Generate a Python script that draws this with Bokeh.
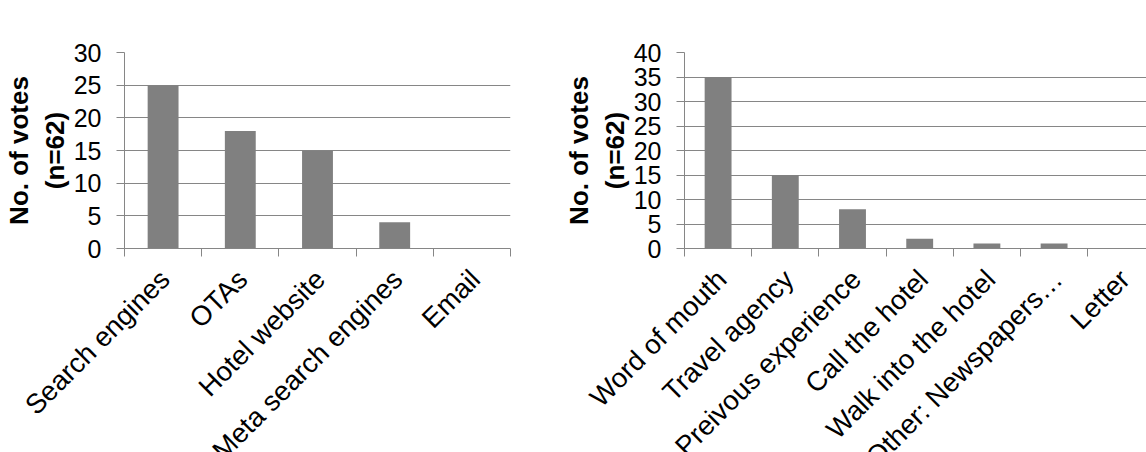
import math

from bokeh.core.properties import value
from bokeh.embed import file_html
from bokeh.layouts import column, row
from bokeh.models import (ColumnDataSource, FixedTicker, Range1d,
                          SingleIntervalTicker)
from bokeh.plotting import figure
from bokeh.resources import INLINE

# ---- data -------------------------------------------------------------
booking_channels = ["Search engines", "OTAs", "Hotel website",
                    "Meta search engines", "Email"]
booking_votes = [25, 18, 15, 4, 0]

info_sources = ["Word of mouth", "Travel agency", "Preivous experience",
                "Call the hotel", "Walk into the hotel",
                "Other: Newspapers\u2026", "Letter"]
info_votes = [35, 15, 8, 2, 1, 1, 0]

y_label = "No. of votes\n(n=62)"

# ---- styling ----------------------------------------------------------
FONT = "Liberation Sans"
BAR = "#808080"
LINE = "#868686"
TICK_SIZE = "25px"
CAT_SIZE = "27.5px"
CAT_ANGLE = math.radians(45)
CHART_H = 263             # height of the chart row
STRIP_H = 452 - CHART_H   # category-label strip under each chart
LABEL_DROP = 11           # end of a category label, px below strip top
LABEL_SHIFT = 3.5         # ... and px to the right of the category centre


def bar_chart(cats, vals, y_max, width, border, x_visible=None):
    """Bars, value axis and category tick marks; returns (plot, label strip)."""
    n = len(cats)
    centers = [i + 0.5 for i in range(n)]
    x_end = n if x_visible is None else x_visible
    p = figure(width=width, height=CHART_H, output_backend="svg",
               toolbar_location=None, title=None,
               x_range=Range1d(0, x_end), y_range=Range1d(0, y_max),
               min_border_left=border[0], min_border_right=border[1],
               min_border_top=border[2], min_border_bottom=border[3])
    p.outline_line_color = None
    p.background_fill_color = "white"
    p.border_fill_color = "white"

    p.vbar(x=centers, top=vals, width=0.4, bottom=0,
           fill_color=BAR, line_color=None)

    # value axis
    p.yaxis.ticker = SingleIntervalTicker(interval=5, num_minor_ticks=0)
    p.yaxis.axis_line_color = LINE
    p.yaxis.major_tick_line_color = LINE
    p.yaxis.major_tick_out = 8
    p.yaxis.major_tick_in = 0
    p.yaxis.minor_tick_line_color = None
    p.yaxis.major_label_standoff = 15
    p.yaxis.major_label_text_font = FONT
    p.yaxis.major_label_text_font_size = TICK_SIZE
    p.yaxis.major_label_text_color = "black"
    p.yaxis.axis_label = y_label
    p.yaxis.axis_label_text_font = FONT
    p.yaxis.axis_label_text_font_size = "26px"
    p.yaxis.axis_label_text_font_style = "bold"
    p.yaxis.axis_label_text_color = "black"
    p.yaxis.axis_label_standoff = 1

    # category axis: tick marks between the categories only
    p.xaxis.ticker = FixedTicker(ticks=[], minor_ticks=list(range(n + 1)))
    p.xaxis.axis_line_color = LINE
    p.xaxis.major_tick_out = 0
    p.xaxis.major_tick_in = 0
    p.xaxis.major_label_standoff = 0
    p.xaxis.minor_tick_line_color = LINE
    p.xaxis.minor_tick_out = 8
    p.xaxis.minor_tick_in = 0

    p.xgrid.visible = False
    p.ygrid.grid_line_color = LINE
    p.ygrid.grid_line_width = 1

    # label strip sharing the chart's horizontal scale; its y unit is 1 px
    frame_w = width - border[0] - border[1]
    px_per_unit = frame_w / x_end
    strip = figure(width=width, height=STRIP_H, output_backend="svg",
                   toolbar_location=None, title=None,
                   x_axis_type=None, y_axis_type=None,
                   x_range=Range1d(-border[0] / px_per_unit,
                                   (width - border[0]) / px_per_unit),
                   y_range=Range1d(-STRIP_H, 0),
                   min_border=0, min_border_left=0, min_border_right=0,
                   min_border_top=0, min_border_bottom=0)
    strip.outline_line_color = None
    strip.grid.visible = False
    strip.background_fill_color = "white"
    strip.border_fill_color = "white"
    lab = ColumnDataSource(dict(
        x=[c + LABEL_SHIFT / px_per_unit for c in centers],
        y=[-LABEL_DROP] * n,
        label=cats))
    strip.text(x="x", y="y", text="label", source=lab, angle=CAT_ANGLE,
               text_align="right", text_baseline="alphabetic",
               text_font=value(FONT), text_font_size=value(CAT_SIZE),
               text_color="black")
    return p, strip


left, left_strip = bar_chart(booking_channels, booking_votes, 30, 560,
                             (122, 50, 52, CHART_H - 248))
right, right_strip = bar_chart(info_sources, info_votes, 40, 586,
                               (124, 0, 23, CHART_H - 250), x_visible=6.875)

layout = column(row(left, right, spacing=0),
                row(left_strip, right_strip, spacing=0), spacing=0)

open("out.html", "w").write(file_html(layout, INLINE))
